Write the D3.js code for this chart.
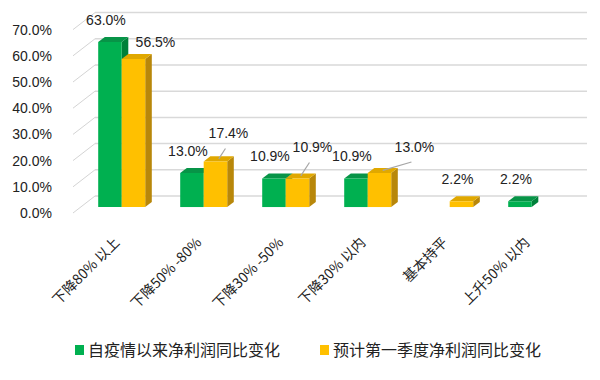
<!DOCTYPE html>
<html>
<head>
<meta charset="utf-8">
<script src="https://cdn.jsdelivr.net/npm/d3@7"></script>
<style>
  body { margin: 0; background: #fff; }
  svg { display: block; }
</style>
</head>
<body>
<div id="chart"></div>
<script>
// data
const categories = ['下降80% 以上', '下降50% -80%', '下降30% -50%', '下降30% 以内', '基本持平', '上升50% 以内'];
const seriesNames = ['自疫情以来净利润同比变化', '预计第一季度净利润同比变化'];
const sinceOutbreak = [63.0, 13.0, 10.9, 10.9, null, 2.2];
const firstQuarter = [56.5, 17.4, 10.9, 13.0, 2.2, null];
const yTicks = [0, 10, 20, 30, 40, 50, 60, 70];

const width = 600, height = 380;
const depth = {dx: 22, dy: 17};          // full depth of the 3d box
const barDepth = [0.35, 0.65];           // where the bars sit inside it
const colors = [
  {front: '#00B050', side: '#00803a', top: '#079447'},
  {front: '#FFC000', side: '#B8870A', top: '#E0A800'}
];
const labelFont = '"Liberation Sans", Arial, sans-serif';
const cjkFont = '"Noto Sans CJK SC", "Liberation Sans", sans-serif';

const svg = d3.select('#chart')
  .append('svg')
    .attr('width', width)
    .attr('height', height);

svg.append('rect')
  .attr('width', width)
  .attr('height', height)
  .attr('fill', '#fff');

const x = d3.scaleBand()
  .domain(categories)
  .range([73, 565]);

const sub = d3.scaleBand()
  .domain([0, 1])
  .range([-23.5, 23.5]);

const y = d3.scaleLinear()
  .domain([0, 70])
  .range([213, 213 - 70 * 2.62]);

// project a point of the 3d box onto the page
function proj(px, v, d)
{
  return [px + d * depth.dx, y(v) - d * depth.dy];
}

// grid: slanted side wall lines and back wall lines
const grid = svg.append('g');
yTicks.forEach(t => {
  const a = proj(x.range()[0], t, 0), b = proj(x.range()[0], t, 1), c = proj(x.range()[1], t, 1);
  grid.append('line')
    .attr('x1', a[0]).attr('y1', a[1])
    .attr('x2', b[0]).attr('y2', b[1])
    .attr('stroke', '#d4d4d4')
    .attr('stroke-width', 1);
  grid.append('line')
    .attr('x1', b[0]).attr('y1', b[1])
    .attr('x2', c[0]).attr('y2', c[1])
    .attr('stroke', '#d9d9d9')
    .attr('stroke-width', 1.5);
});

// y tick labels
svg.append('g')
  .selectAll('text')
  .data(yTicks)
  .join('text')
    .attr('x', 52)
    .attr('y', d => y(d))
    .attr('dy', '0.35em')
    .attr('text-anchor', 'end')
    .style('font-family', labelFont)
    .style('font-size', '14px')
    .style('fill', '#222')
    .text(d => d.toFixed(1) + '%');

// bars
const seriesValues = [sinceOutbreak, firstQuarter];
const bars = [];
categories.forEach((c, ci) => {
  seriesValues.forEach((vals, si) => {
    if (vals[ci] == null) return;
    bars.push({cat: c, ci: ci, si: si, value: vals[ci]});
  });
});

const barG = svg.append('g');
bars.forEach(b => {
  const cx = x(b.cat) + x.bandwidth() / 2;
  const x0 = cx + sub(b.si), x1 = x0 + sub.bandwidth();
  const [d0, d1] = barDepth;
  const pts = (list) => list.map(p => proj(p[0], p[1], p[2]).join(',')).join(' ');
  const col = colors[b.si];
  // side face
  barG.append('polygon')
    .attr('points', pts([[x1, 0, d0], [x1, 0, d1], [x1, b.value, d1], [x1, b.value, d0]]))
    .attr('fill', col.side);
  // top face
  barG.append('polygon')
    .attr('points', pts([[x0, b.value, d0], [x1, b.value, d0], [x1, b.value, d1], [x0, b.value, d1]]))
    .attr('fill', col.top);
  // front face
  barG.append('polygon')
    .attr('points', pts([[x0, 0, d0], [x1, 0, d0], [x1, b.value, d0], [x0, b.value, d0]]))
    .attr('fill', col.front);
});

// data labels; some are pulled aside with a leader line
const labelShift = {
  '0-1': {dx: 22, dy: -17, leader: false},
  '1-1': {dx: 13, dy: -28, leader: true},
  '2-1': {dx: 15, dy: -31, leader: true},
  '3-1': {dx: 35, dy: -26, leader: true}
};
const labelG = svg.append('g');
bars.forEach(b => {
  const cx = x(b.cat) + x.bandwidth() / 2 + sub(b.si) + sub.bandwidth() / 2;
  const front = proj(cx, b.value, barDepth[0]);
  const mid = proj(cx, b.value, (barDepth[0] + barDepth[1]) / 2);
  const s = labelShift[b.ci + '-' + b.si] || {dx: -4, dy: -22, leader: false};
  const lx = front[0] + s.dx, ly = front[1] + s.dy;
  if (s.leader) {
    labelG.append('line')
      .attr('x1', mid[0]).attr('y1', mid[1])
      .attr('x2', lx - 3).attr('y2', ly + 15)
      .attr('stroke', '#a6a6a6')
      .attr('stroke-width', 1.2);
  }
  labelG.append('text')
    .attr('x', lx)
    .attr('y', ly)
    .attr('dy', '0.35em')
    .attr('text-anchor', 'middle')
    .style('font-family', labelFont)
    .style('font-size', '14px')
    .style('fill', '#222')
    .text(b.value.toFixed(1) + '%');
});

// category labels, rotated
svg.append('g')
  .selectAll('text')
  .data(categories)
  .join('text')
    .attr('transform', d => 'translate(' + (x(d) + x.bandwidth() / 2 + 3) + ',240) rotate(-45)')
    .attr('text-anchor', 'end')
    .attr('dy', '0.35em')
    .style('font-family', cjkFont)
    .style('font-size', '14px')
    .style('fill', '#222')
    .text(d => d);

// legend
const legend = svg.append('g');
const legendX = [75, 320];
seriesNames.forEach((name, i) => {
  legend.append('rect')
    .attr('x', legendX[i])
    .attr('y', 345)
    .attr('width', 9)
    .attr('height', 10)
    .attr('fill', colors[i].front);
  legend.append('text')
    .attr('x', legendX[i] + 13)
    .attr('y', 350)
    .attr('dy', '0.35em')
    .style('font-family', cjkFont)
    .style('font-size', '16px')
    .style('fill', '#222')
    .text(name);
});
</script>
</body>
</html>
